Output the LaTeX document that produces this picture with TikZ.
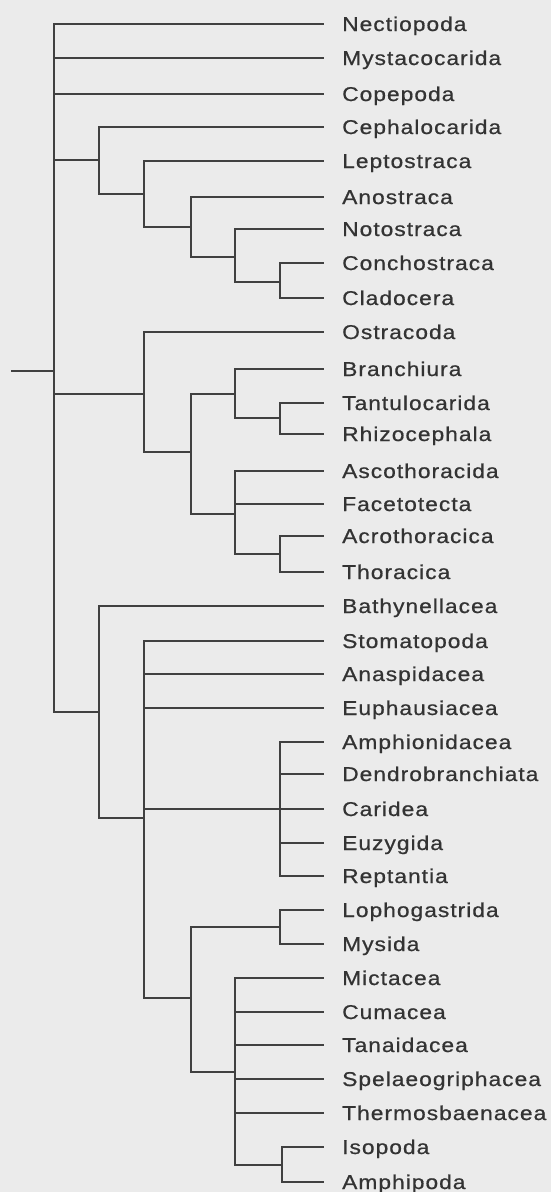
\documentclass[tikz,border=0pt]{standalone}
\usepackage{fontspec}
\setmainfont{Liberation Sans}[FakeStretch=1.14,LetterSpace=5,FakeBold=0.7]
\definecolor{paper}{HTML}{EBEBEB}
\definecolor{ink}{HTML}{404040}
\definecolor{txt}{HTML}{333333}
\begin{document}
\begin{tikzpicture}[x=1pt,y=-1pt,
  branch/.style={draw=ink,line width=2.3pt,line cap=rect},
  taxon/.style={anchor=base west,inner sep=0pt,text=txt,font=\fontsize{20}{24}\selectfont}]
\fill[paper] (0,0) rectangle (551,1192);
\useasboundingbox (0,0) rectangle (551,1192);
% tips and labels
\foreach \n/\y/\t in {
 t1/24/Nectiopoda, t2/58/Mystacocarida, t3/94/Copepoda, t4/127/Cephalocarida,
 t5/161/Leptostraca, t6/197/Anostraca, t7/229/Notostraca, t8/263/Conchostraca,
 t9/298/Cladocera, t10/332/Ostracoda, t11/369/Branchiura, t12/403/Tantulocarida,
 t13/434/Rhizocephala, t14/471/Ascothoracida, t15/504/Facetotecta, t16/536/Acrothoracica,
 t17/572/Thoracica, t18/606/Bathynellacea, t19/641/Stomatopoda, t20/674/Anaspidacea,
 t21/708/Euphausiacea, t22/742/Amphionidacea, t23/774/Dendrobranchiata, t24/809/Caridea,
 t25/843/Euzygida, t26/876/Reptantia, t27/910/Lophogastrida, t28/944/Mysida,
 t29/978/Mictacea, t30/1012/Cumacea, t31/1045/Tanaidacea, t32/1079/Spelaeogriphacea,
 t33/1113/Thermosbaenacea, t34/1147/Isopoda, t35/1182/Amphipoda}{
  \coordinate (\n) at (323,\y);
  \node[taxon] (L\n) at (342,\y+7) {\t};
}
% internal nodes
\coordinate (R0) at (12,371);
\coordinate (R) at (54,371);
\coordinate (A) at (99,160);
\coordinate (A2) at (144,194);
\coordinate (A3) at (191,227);
\coordinate (A4) at (235,257);
\coordinate (A5) at (280,282);
\coordinate (B) at (144,394);
\coordinate (B2) at (191,452);
\coordinate (B3) at (235,394);
\coordinate (B5) at (280,418);
\coordinate (B4) at (235,514);
\coordinate (B6) at (280,554);
\coordinate (C) at (99,712);
\coordinate (C2) at (144,818);
\coordinate (C3) at (280,809);
\coordinate (C4) at (191,998);
\coordinate (C5) at (280,927);
\coordinate (C6) at (235,1072);
\coordinate (C7) at (282,1165);
% branches
\draw[branch] (R0) -- (R);
\foreach \p/\c in {R/t1,R/t2,R/t3,R/A,R/B,R/C,
  A/t4,A/A2, A2/t5,A2/A3, A3/t6,A3/A4, A4/t7,A4/A5, A5/t8,A5/t9,
  B/t10,B/B2, B2/B3,B2/B4, B3/t11,B3/B5, B5/t12,B5/t13,
  B4/t14,B4/t15,B4/B6, B6/t16,B6/t17,
  C/t18,C/C2, C2/t19,C2/t20,C2/t21,C2/C3,C2/C4,
  C3/t22,C3/t23,C3/t24,C3/t25,C3/t26,
  C4/C5,C4/C6, C5/t27,C5/t28,
  C6/t29,C6/t30,C6/t31,C6/t32,C6/t33,C6/C7, C7/t34,C7/t35}{
  \draw[branch] (\p) |- (\c);
}
\end{tikzpicture}
\end{document}
